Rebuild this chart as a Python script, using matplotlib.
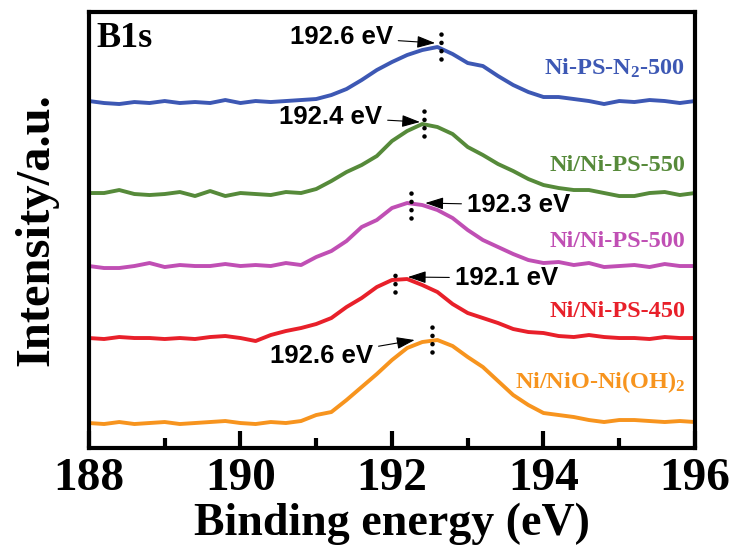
import matplotlib
matplotlib.use("Agg")
import matplotlib.pyplot as plt
import numpy as np

plt.rcParams["mathtext.fontset"] = "custom"
plt.rcParams["mathtext.rm"] = "Liberation Serif:bold"
plt.rcParams["mathtext.bf"] = "Liberation Serif:bold"
plt.rcParams["mathtext.it"] = "Liberation Serif:italic:bold"

# binding energy grid (eV), 0.2 eV step
energy = np.arange(188.0, 196.01, 0.2)

# stacked B1s spectra (offset intensities, a.u.)
ni_ps_n2_500 = [347, 345, 344, 346, 345, 347, 345, 346, 345, 348, 345, 347, 346, 347, 348,
                349, 353, 359, 368, 378, 386, 393, 398, 401, 394, 385, 382, 372, 363, 356,
                351, 351, 349, 347, 344, 347, 346, 348, 347, 345, 347]
ni_ps_550 = [255, 255, 258, 254, 253, 254, 256, 252, 257, 252, 255, 254, 253, 256, 255,
             259, 267, 276, 283, 292, 307, 317, 324, 321, 314, 301, 293, 284, 277, 269,
             263, 260, 258, 258, 255, 252, 252, 255, 256, 253, 255]
ni_ps_500 = [182, 180, 180, 182, 185, 181, 183, 182, 182, 184, 182, 183, 182, 185, 183,
             191, 197, 207, 221, 228, 240, 245, 243, 238, 230, 218, 208, 201, 194, 188,
             185, 186, 183, 185, 181, 182, 183, 181, 184, 182, 182]
ni_ps_450 = [110, 109, 111, 110, 110, 109, 110, 109, 111, 112, 110, 107, 113, 117, 120,
             124, 130, 141, 150, 161, 168, 169, 163, 156, 144, 135, 130, 125, 119, 116,
             115, 112, 111, 113, 111, 110, 110, 109, 111, 110, 110]
ni_nio = [25, 24, 26, 24, 25, 26, 24, 25, 26, 27, 25, 24, 26, 25, 27,
          33, 36, 48, 61, 74, 88, 100, 106, 108, 102, 91, 81, 67, 53, 43,
          35, 33, 31, 28, 26, 28, 28, 27, 26, 27, 26]

series = [ni_ps_n2_500, ni_ps_550, ni_ps_500, ni_ps_450, ni_nio]
names = ["Ni-PS-N$_\\mathbf{2}$-500", "Ni/Ni-PS-550", "Ni/Ni-PS-500",
         "Ni/Ni-PS-450", "Ni/NiO-Ni(OH)$_\\mathbf{2}$"]
colors = ["#3d58b4", "#568a3a", "#c04fb4", "#e8202a", "#f7941e"]
name_y = [380, 283, 207, 137, 66]

# peak markers
peak_ev = [192.65, 192.42, 192.25, 192.04, 192.53]
dot_lo = [389, 312, 230, 156, 96]
dot_hi = [414, 338, 256, 174, 123]
peak_text = ["192.6 eV", "192.4 eV", "192.3 eV", "192.1 eV", "192.6 eV"]
arrow_tip = [(192.57, 405), (192.37, 326), (192.44, 245), (192.21, 171), (192.30, 108)]
text_pos = [(192.01, 411), (191.87, 331), (192.99, 243), (192.83, 170), (191.75, 92)]
text_ha = ["right", "right", "left", "left", "right"]

fig = plt.figure(figsize=(7.35, 5.54), dpi=100)
ax = fig.add_axes([0.121, 0.1913, 0.8246, 0.787])

for y, c in zip(series, colors):
    ax.plot(energy, y, c=c, lw=2.8)

for name, c, yy in zip(names, colors, name_y):
    ax.text(195.87, yy, name, color=c, ha="right", va="center",
            fontsize=17.5, fontweight="bold", family="Liberation Serif")

ax.vlines(peak_ev, dot_lo, dot_hi, colors="k", lw=3.3,
          linestyles=[(0, (0.01, 1.8))], capstyle="round")

for t, tip, pos, ha in zip(peak_text, arrow_tip, text_pos, text_ha):
    ax.annotate(t, xy=tip, xytext=pos, ha=ha, va="center",
                fontsize=18.5, fontweight="bold", family="Liberation Sans",
                arrowprops=dict(arrowstyle="-|>,head_length=0.6,head_width=0.2",
                                color="k", lw=0.8, shrinkA=2, shrinkB=0))

ax.text(188.1, 410, "B1s", ha="left", va="center", fontsize=26,
        fontweight="bold", family="Liberation Serif")

ax.set_xlim(188, 196)
ax.set_ylim(0, 436)
ax.set_xticks([188, 190, 192, 194, 196])
ax.set_xticks([189, 191, 193, 195], minor=True)
ax.set_yticks([])
ax.tick_params(axis="x", which="major", direction="in", length=12, width=3, pad=7)
ax.tick_params(axis="x", which="minor", direction="in", length=7, width=3)
for lab in ax.get_xticklabels():
    lab.set_fontsize(34)
    lab.set_fontweight("bold")
    lab.set_family("Liberation Serif")
for s in ax.spines.values():
    s.set_linewidth(3)

ax.set_xlabel("Binding energy (eV)", fontsize=33, fontweight="bold",
              family="Liberation Serif", labelpad=2)
ax.set_ylabel("Intensity/a.u.", fontsize=35, fontweight="bold",
              family="Liberation Serif", labelpad=22)

fig.savefig("out.png", dpi=100)
